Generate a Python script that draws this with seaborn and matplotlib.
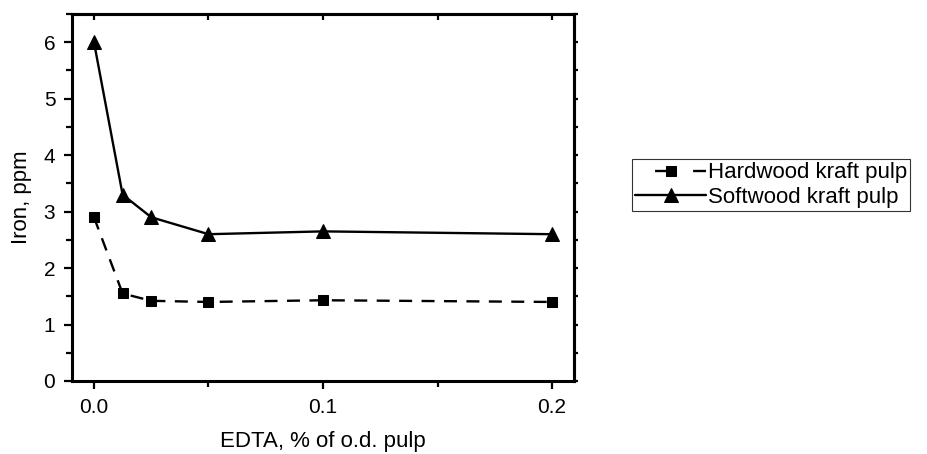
import matplotlib
matplotlib.use("Agg")
import matplotlib.pyplot as plt
import seaborn as sns
import pandas as pd
from matplotlib.ticker import MultipleLocator, FormatStrFormatter

edta = [0.0, 0.0125, 0.025, 0.05, 0.1, 0.2]
hardwood = [2.9, 1.55, 1.42, 1.40, 1.43, 1.40]
softwood = [6.0, 3.3, 2.9, 2.6, 2.65, 2.6]
labels = ["Hardwood kraft pulp", "Softwood kraft pulp"]

sns.set_style("ticks")
plt.rcParams['font.family'] = ['Liberation Sans', 'DejaVu Sans']
plt.rcParams.update({'text.color': 'black', 'axes.labelcolor': 'black',
                     'axes.edgecolor': 'black', 'xtick.color': 'black', 'ytick.color': 'black'})

fig = plt.figure(figsize=(9.27, 4.54), dpi=100)
ax = fig.add_axes([72/927, 73/454, (574-72)/927, (381-14)/454])

df_h = pd.DataFrame({"x": edta, "y": hardwood})
df_s = pd.DataFrame({"x": edta, "y": softwood})
sns.lineplot(data=df_h, x="x", y="y", ax=ax, color="black", linestyle=(0, (5.5, 4)),
             marker="s", markersize=7.5, markeredgecolor="black", linewidth=1.7, label=labels[0])
sns.lineplot(data=df_s, x="x", y="y", ax=ax, color="black", linestyle="-",
             marker="^", markersize=9.5, markeredgecolor="black", linewidth=1.7, label=labels[1])

ax.set_xlim(-0.0096, 0.2096)
ax.set_ylim(0, 6.5)
ax.xaxis.set_major_locator(MultipleLocator(0.1))
ax.xaxis.set_minor_locator(MultipleLocator(0.05))
ax.yaxis.set_major_locator(MultipleLocator(1))
ax.yaxis.set_minor_locator(MultipleLocator(0.5))
ax.xaxis.set_major_formatter(FormatStrFormatter('%.1f'))
ax.tick_params(which='both', direction='out', labelsize=15, width=1.6, top=False, right=False,
               colors='black')
ax.tick_params(which='major', length=6, pad=6)
ax.tick_params(which='minor', length=4)
for s in ax.spines.values():
    s.set_linewidth(2.2)
    s.set_color('black')
    s.set_visible(True)
ax.set_xlabel("EDTA, % of o.d. pulp", fontsize=16, labelpad=10, color='black')
ax.set_ylabel("Iron, ppm", fontsize=16, labelpad=8, color='black')

# top ticks inward, right ticks small outward
secx = ax.secondary_xaxis('top')
secx.xaxis.set_major_locator(MultipleLocator(0.1))
secx.xaxis.set_minor_locator(MultipleLocator(0.05))
secx.tick_params(which='both', direction='in', labeltop=False, width=1.6, length=4, colors='black')
secx.spines['top'].set_linewidth(2.2)
secx.spines['top'].set_color('black')
secy = ax.secondary_yaxis('right')
secy.yaxis.set_major_locator(MultipleLocator(1))
secy.yaxis.set_minor_locator(MultipleLocator(0.5))
secy.tick_params(which='both', direction='out', labelright=False, width=1.6, length=3, colors='black')
secy.spines['right'].set_linewidth(2.2)
secy.spines['right'].set_color('black')

ax.legend(loc='upper left', bbox_to_anchor=(632/927, 1 - 159/454), bbox_transform=fig.transFigure,
          frameon=True, fancybox=False, edgecolor='black', fontsize=16,
          handlelength=3.2, handletextpad=0.05, borderpad=0.15, labelspacing=0.15, borderaxespad=0)
leg = ax.get_legend()
leg.get_frame().set_linewidth(0.8)
for t in leg.get_texts():
    t.set_color('black')
leg.get_lines()[0].set_linestyle((7.6, (5.5, 10.6)))

fig.savefig("out.png", dpi=100)
